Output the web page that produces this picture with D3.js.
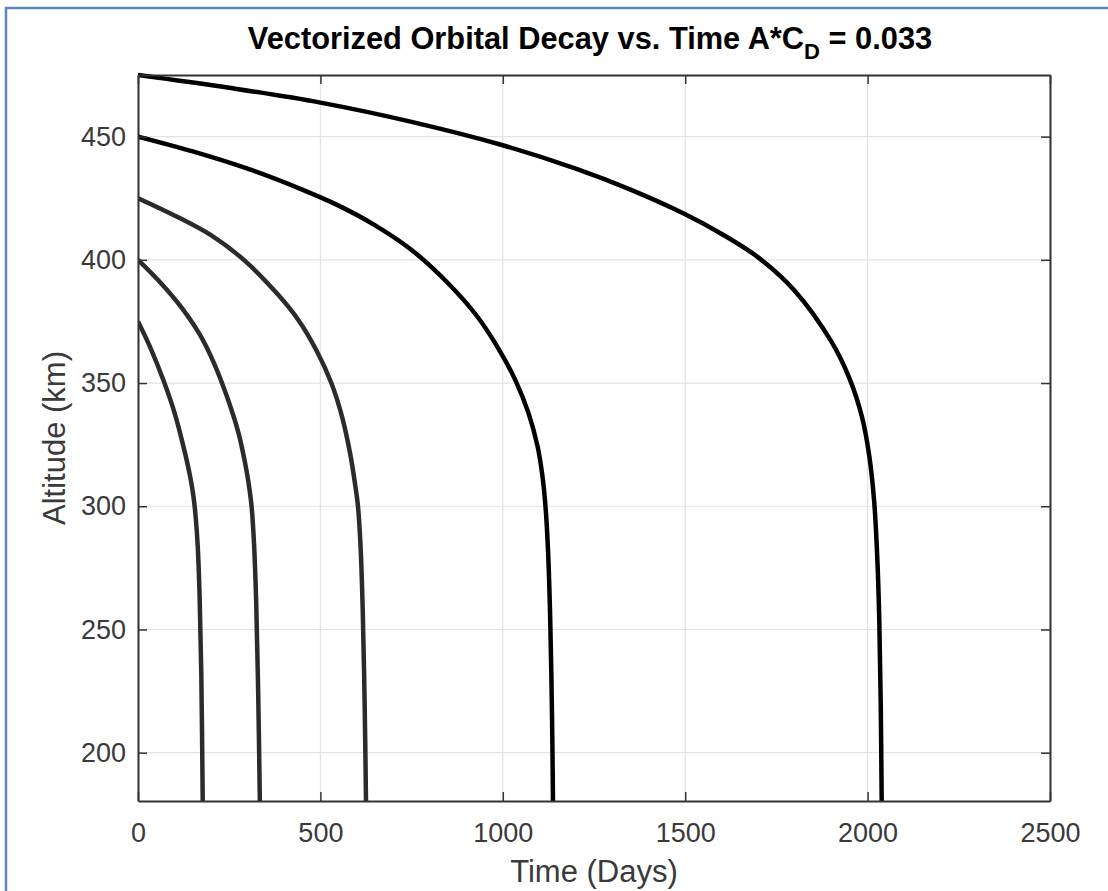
<!DOCTYPE html>
<html>
<head>
<meta charset="utf-8">
<script src="https://cdn.jsdelivr.net/npm/d3@7"></script>
<style>
  html, body { margin: 0; padding: 0; background: #fff; }
  svg { display: block; }
  text { font-family: "Liberation Sans", Arial, Helvetica, sans-serif; }
</style>
</head>
<body>
<svg id="chart" width="1108" height="891"></svg>
<script>
// ---- Data ----
const xTicks = [0, 500, 1000, 1500, 2000, 2500];
const yTicks = [200, 250, 300, 350, 400, 450];

// Initial altitude 475 km
const days475 = [0, 250, 500, 750, 1000, 1200, 1350, 1500, 1600, 1700, 1800, 1900, 1950, 1985, 2005, 2018, 2026, 2032, 2036, 2038.6];
const alt475  = [475, 469.8, 463.8, 456, 446.5, 437, 428.5, 418.5, 410.5, 401, 387.5, 367, 352, 336, 320, 302, 281, 254, 220, 180.4];

// Initial altitude 450 km
const days450 = [0, 150, 300, 450, 550, 650, 750, 850, 930, 990, 1035, 1070, 1095, 1108, 1117, 1124, 1130, 1135, 1137.6];
const alt450  = [450, 444, 437, 428.5, 422, 414, 404, 390.5, 377, 363.5, 351, 338, 324.5, 313, 300, 282, 254, 214, 180.4];

// Initial altitude 425 km
const days425 = [0, 100, 200, 290, 380, 440, 490, 530, 560, 582, 596, 603, 610, 616, 621.5, 625];
const alt425  = [425, 418, 410, 400, 386.5, 375.5, 363, 350, 336, 321, 308, 300, 284, 258, 218, 180.4];

// Initial altitude 400 km
const days400 = [0, 60, 120, 170, 210, 245, 275, 293, 303, 311, 318, 324, 329.5, 334];
const alt400  = [400, 391, 380.5, 369.5, 357.5, 344, 330, 318, 309.5, 300.5, 285, 261, 224, 180.4];

// Initial altitude 375 km
const days375 = [0, 35, 70, 100, 125, 143, 152, 158.5, 164, 169, 173.5, 177.4];
const alt375  = [375, 364, 351, 338, 324, 312, 304, 295, 283, 263, 232, 180.4];

const seriesList = [
  { days: days475, alt: alt475, color: "#000000", width: 4.5 },
  { days: days450, alt: alt450, color: "#000000", width: 4.5 },
  { days: days425, alt: alt425, color: "#2b2b2b", width: 4.5 },
  { days: days400, alt: alt400, color: "#2b2b2b", width: 4.5 },
  { days: days375, alt: alt375, color: "#2b2b2b", width: 4.5 }
];

// ---- Layout ----
const mLeft = 138, mRight = 1050, mTop = 75, mBottom = 801;
const svg = d3.select("#chart");

// Picture frame (blue border)
svg.append("rect")
  .attr("x", 6).attr("y", 8).attr("width", 1300).attr("height", 1100)
  .attr("fill", "none").attr("stroke", "#5b87c6").attr("stroke-width", 2.5);

const x = d3.scaleLinear().domain([0, 2500]).range([mLeft, mRight]);
const y = d3.scaleLinear().domain([180.4, 475]).range([mBottom, mTop]);

// Grid
const grid = svg.append("g");
grid.selectAll("line.gx").data(xTicks).join("line")
  .attr("x1", d => x(d)).attr("x2", d => x(d))
  .attr("y1", mTop).attr("y2", mBottom)
  .attr("stroke", "#e3e3e3").attr("stroke-width", 1.2);
grid.selectAll("line.gy").data(yTicks).join("line")
  .attr("x1", mLeft).attr("x2", mRight)
  .attr("y1", d => y(d)).attr("y2", d => y(d))
  .attr("stroke", "#e3e3e3").attr("stroke-width", 1.2);

// Curves
const line = d3.line()
  .x(d => x(d[0])).y(d => y(d[1]))
  .curve(d3.curveCatmullRom.alpha(0.5));

svg.append("clipPath").attr("id", "clip")
  .append("rect").attr("x", mLeft).attr("y", mTop - 3).attr("width", mRight - mLeft).attr("height", mBottom - mTop + 3);

svg.append("g").attr("clip-path", "url(#clip)")
  .selectAll("path").data(seriesList).join("path")
  .attr("d", s => line(s.days.map((t, i) => [t, s.alt[i]])))
  .attr("fill", "none")
  .attr("stroke", s => s.color)
  .attr("stroke-width", s => s.width)
  .attr("stroke-linejoin", "round");

// Axes (box with inward ticks on all sides)
const axisColor = "#333333";
const tickLen = 9;
const fmt = d3.format("d");

const axB = d3.axisBottom(x).tickValues(xTicks).tickSizeInner(-tickLen).tickSizeOuter(0).tickPadding(22).tickFormat(fmt);
const axT = d3.axisTop(x).tickValues(xTicks).tickSizeInner(-tickLen).tickSizeOuter(0).tickFormat("");
const axL = d3.axisLeft(y).tickValues(yTicks).tickSizeInner(-tickLen).tickSizeOuter(0).tickPadding(12).tickFormat(fmt);
const axR = d3.axisRight(y).tickValues(yTicks).tickSizeInner(-tickLen).tickSizeOuter(0).tickFormat("");

function styleAxis(g) {
  g.select(".domain").attr("stroke", axisColor).attr("stroke-width", 2);
  g.selectAll(".tick line").attr("stroke", axisColor).attr("stroke-width", 1.5);
  g.selectAll(".tick text").attr("fill", "#3a3a3a").attr("font-size", 27)
    .attr("font-family", '"Liberation Sans", Arial, sans-serif');
}

svg.append("g").attr("transform", `translate(0,${mBottom})`).call(axB).call(styleAxis);
svg.append("g").attr("transform", `translate(0,${mTop})`).call(axT).call(styleAxis);
svg.append("g").attr("transform", `translate(${mLeft},0)`).call(axL).call(styleAxis);
svg.append("g").attr("transform", `translate(${mRight},0)`).call(axR).call(styleAxis);

// Title
const title = svg.append("text")
  .attr("x", (mLeft + mRight) / 2 - 4).attr("y", 49)
  .attr("text-anchor", "middle")
  .attr("font-size", 30.8).attr("font-weight", "bold").attr("fill", "#000");
title.append("tspan").text("Vectorized Orbital Decay vs. Time A*C");
title.append("tspan").attr("dy", 10).attr("font-size", 22).text("D");
title.append("tspan").attr("dy", -10).text(" = 0.033");

// Axis labels
svg.append("text")
  .attr("x", (mLeft + mRight) / 2).attr("y", 882)
  .attr("text-anchor", "middle")
  .attr("font-size", 31).attr("fill", "#3a3a3a")
  .text("Time (Days)");

svg.append("text")
  .attr("transform", `translate(65,${(mTop + mBottom) / 2}) rotate(-90)`)
  .attr("text-anchor", "middle")
  .attr("font-size", 31).attr("fill", "#3a3a3a")
  .text("Altitude (km)");
</script>
</body>
</html>
